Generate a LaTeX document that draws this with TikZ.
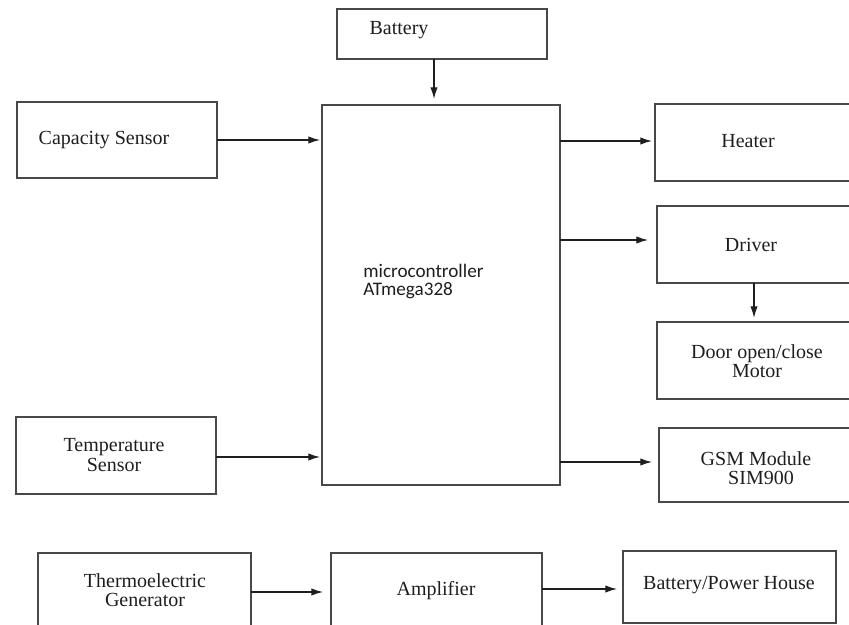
\documentclass[tikz,border=0pt]{standalone}
\usepackage{fontspec}
\setmainfont{Liberation Serif}
\newfontfamily\mcufont{Carlito}
\definecolor{frame}{RGB}{72,72,72}
\definecolor{ink}{RGB}{30,30,30}
\usetikzlibrary{arrows.meta,positioning,calc}

\begin{document}
\begin{tikzpicture}[x=0.6pt,y=-0.6pt,
    blk/.style={draw=frame,line width=1pt,inner sep=0pt,outer sep=0pt},
    lbl/.style={text=ink,align=center,inner sep=0pt,font=\fontsize{12}{11.8}\selectfont},
    arr/.style={-{Latex[length=7pt,width=4.4pt]},ink,line width=0.75pt}]
        \useasboundingbox (0,0) rectangle (849,625);
        \clip (0,0) rectangle (849,625);
        \node[blk,minimum width=126pt,minimum height=30pt] (battery) at (442,34) {};
        \node[blk,minimum width=142.8pt,minimum height=228pt] (mcu) at (441,295) {};
        \node[blk,minimum width=120pt,minimum height=45.6pt] (capsens) at (117,140) {};
        \node[blk,minimum width=120pt,minimum height=46.2pt] (tempsens) at (116,455.5) {};
        \node[blk,minimum width=129pt,minimum height=46.2pt] (heater) at (762.5,142.5) {};
        \node[blk,minimum width=127.8pt,minimum height=46.2pt] (driver) at (763.5,244.5) {};
        \node[blk,minimum width=127.8pt,minimum height=46.2pt] (motor) at (763.5,360.5) {};
        \node[blk,minimum width=126.6pt,minimum height=44.4pt] (gsm) at (764.5,465) {};
        \node[blk,minimum width=127.8pt,minimum height=58.2pt] (teg) at (144.5,601.5) {};
        \node[blk,minimum width=126.6pt,minimum height=58.2pt] (amp) at (436.5,601.5) {};
        \node[blk,minimum width=127.8pt,minimum height=43.2pt] (power) at (729.5,587) {};

        \node[lbl] (batterylbl) at (399,30) {Battery};
        \node[lbl,anchor=west,align=left,font=\mcufont\fontsize{11.5}{10.8}\selectfont]
          (mculbl) at (363,281) {microcontroller\\ATmega328};
        \node[lbl] (capsenslbl) at (104,140) {Capacity Sensor};
        \node[lbl] (tempsenslbl) at (114,455) {Temperature\\Sensor};
        \node[lbl] (heaterlbl) at (748,141) {Heater};
        \node[lbl] (driverlbl) at (751,245) {Driver};
        \node[lbl] (motorlbl) at (757,361) {Door open/close\\Motor};
        \node[lbl] (gsmlbl) at (756,468) {GSM Module\\\hspace*{6pt}SIM900};
        \node[lbl] (teglbl) at (145,590) {Thermoelectric\\Generator};
        \node[lbl] (amplbl) at (436,591) {Amplifier};
        \node[lbl] (powerlbl) at (729,585) {Battery/Power House};

        \draw[arr,shorten >=3.6pt] ([xshift=-4.8pt]battery.south) -- ([xshift=-4.8pt]battery.south |- mcu.north);
        \draw[arr,shorten >=1.2pt] (capsens.east) -- (capsens.east -| mcu.west);
        \draw[arr,shorten >=1.2pt] ([yshift=-0.9pt]tempsens.east) -- ([yshift=-0.9pt]tempsens.east -| mcu.west);
        \draw[arr,shorten >=1.8pt] ([yshift=0.9pt]mcu.east |- heater.west) -- ([yshift=0.9pt]heater.west);
        \draw[arr,shorten >=5.4pt] ([yshift=2.7pt]mcu.east |- driver.west) -- ([yshift=2.7pt]driver.west);
        \draw[arr,shorten >=2.4pt] ([xshift=-5.7pt]driver.south) -- ([xshift=-5.7pt]motor.north);
        \draw[arr,shorten >=4.2pt] ([yshift=1.8pt]mcu.east |- gsm.west) -- ([yshift=1.8pt]gsm.west);
        \draw[arr,shorten >=4.8pt] ([yshift=5.7pt]teg.east) -- ([yshift=5.7pt]amp.west);
        \draw[arr,shorten >=3.6pt] ([yshift=7.5pt]amp.east) -- ([yshift=7.5pt]amp.east -| power.west);
      \end{tikzpicture}
\end{document}
